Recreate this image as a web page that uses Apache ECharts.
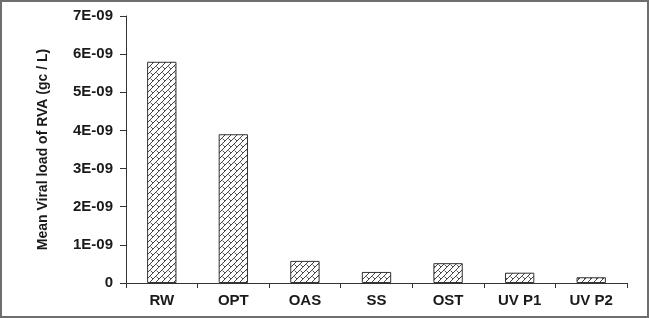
<!DOCTYPE html>
<html><head><meta charset="utf-8">
<script src="https://cdn.jsdelivr.net/npm/echarts@6/dist/echarts.min.js"></script>
<style>html,body{margin:0;padding:0;background:#fff}#c{width:649px;height:318px}</style>
</head><body><div id="c"></div>
<script>
const categories = ['RW','OPT','OAS','SS','OST','UV P1','UV P2'];
const values = [5.8e-9, 3.9e-9, 0.58e-9, 0.29e-9, 0.52e-9, 0.27e-9, 0.15e-9];
const yTicks = ['0','1E-09','2E-09','3E-09','4E-09','5E-09','6E-09','7E-09'];

function makePattern(){
  const s = 6;
  const cv = document.createElement('canvas');
  cv.width = s; cv.height = s;
  const ctx = cv.getContext('2d');
  ctx.fillStyle = '#fff'; ctx.fillRect(0,0,s,s);
  ctx.strokeStyle = '#444'; ctx.lineWidth = 1;
  ctx.beginPath();
  ctx.moveTo(-1, s+1); ctx.lineTo(s+1, -1);
  ctx.moveTo(-1, 1); ctx.lineTo(1, -1);
  ctx.moveTo(s-1, s+1); ctx.lineTo(s+1, s-1);
  ctx.stroke();
  ctx.strokeStyle = '#555';
  ctx.beginPath();
  ctx.moveTo(0.5, 0.5); ctx.lineTo(3, 3);
  ctx.stroke();
  return cv;
}

const chart = echarts.init(document.getElementById('c'), null, {renderer:'canvas'});
const font = '"Liberation Sans", Arial, sans-serif';
chart.setOption({
  animation:false,
  grid:{left:126, right:22, top:16, bottom:35},
  graphic:[{type:'rect', shape:{x:1, y:1, width:647, height:316}, style:{fill:'none', stroke:'#6e6e6e', lineWidth:2}}],
  xAxis:{type:'category', data:categories,
    axisLine:{lineStyle:{color:'#333', width:1}},
    axisTick:{show:true, alignWithLabel:false, length:5, lineStyle:{color:'#333'}},
    axisLabel:{color:'#1a1a1a', fontWeight:'bold', fontSize:15, fontFamily:font, margin:10}
  },
  yAxis:{type:'value', min:0, max:7e-9, interval:1e-9,
    name:'Mean Viral load of RVA (gc / L)', nameLocation:'middle', nameRotate:90, nameGap:52,
    nameTextStyle:{color:'#1a1a1a', fontWeight:'bold', fontSize:14, fontFamily:font, padding:[0,0,24,0]},
    axisLine:{show:true, lineStyle:{color:'#333'}},
    axisTick:{show:true, length:6, lineStyle:{color:'#333'}},
    splitLine:{show:false},
    axisLabel:{color:'#1a1a1a', fontWeight:'bold', fontSize:15, fontFamily:font, margin:13,
      formatter:function(v){ const i = Math.round(v/1e-9); return yTicks[i]; }}
  },
  series:[{type:'bar', data:values, barWidth:'41%',
    itemStyle:{color:{image:makePattern(), repeat:'repeat'}, borderColor:'#333', borderWidth:1}}]
});
</script></body></html>
